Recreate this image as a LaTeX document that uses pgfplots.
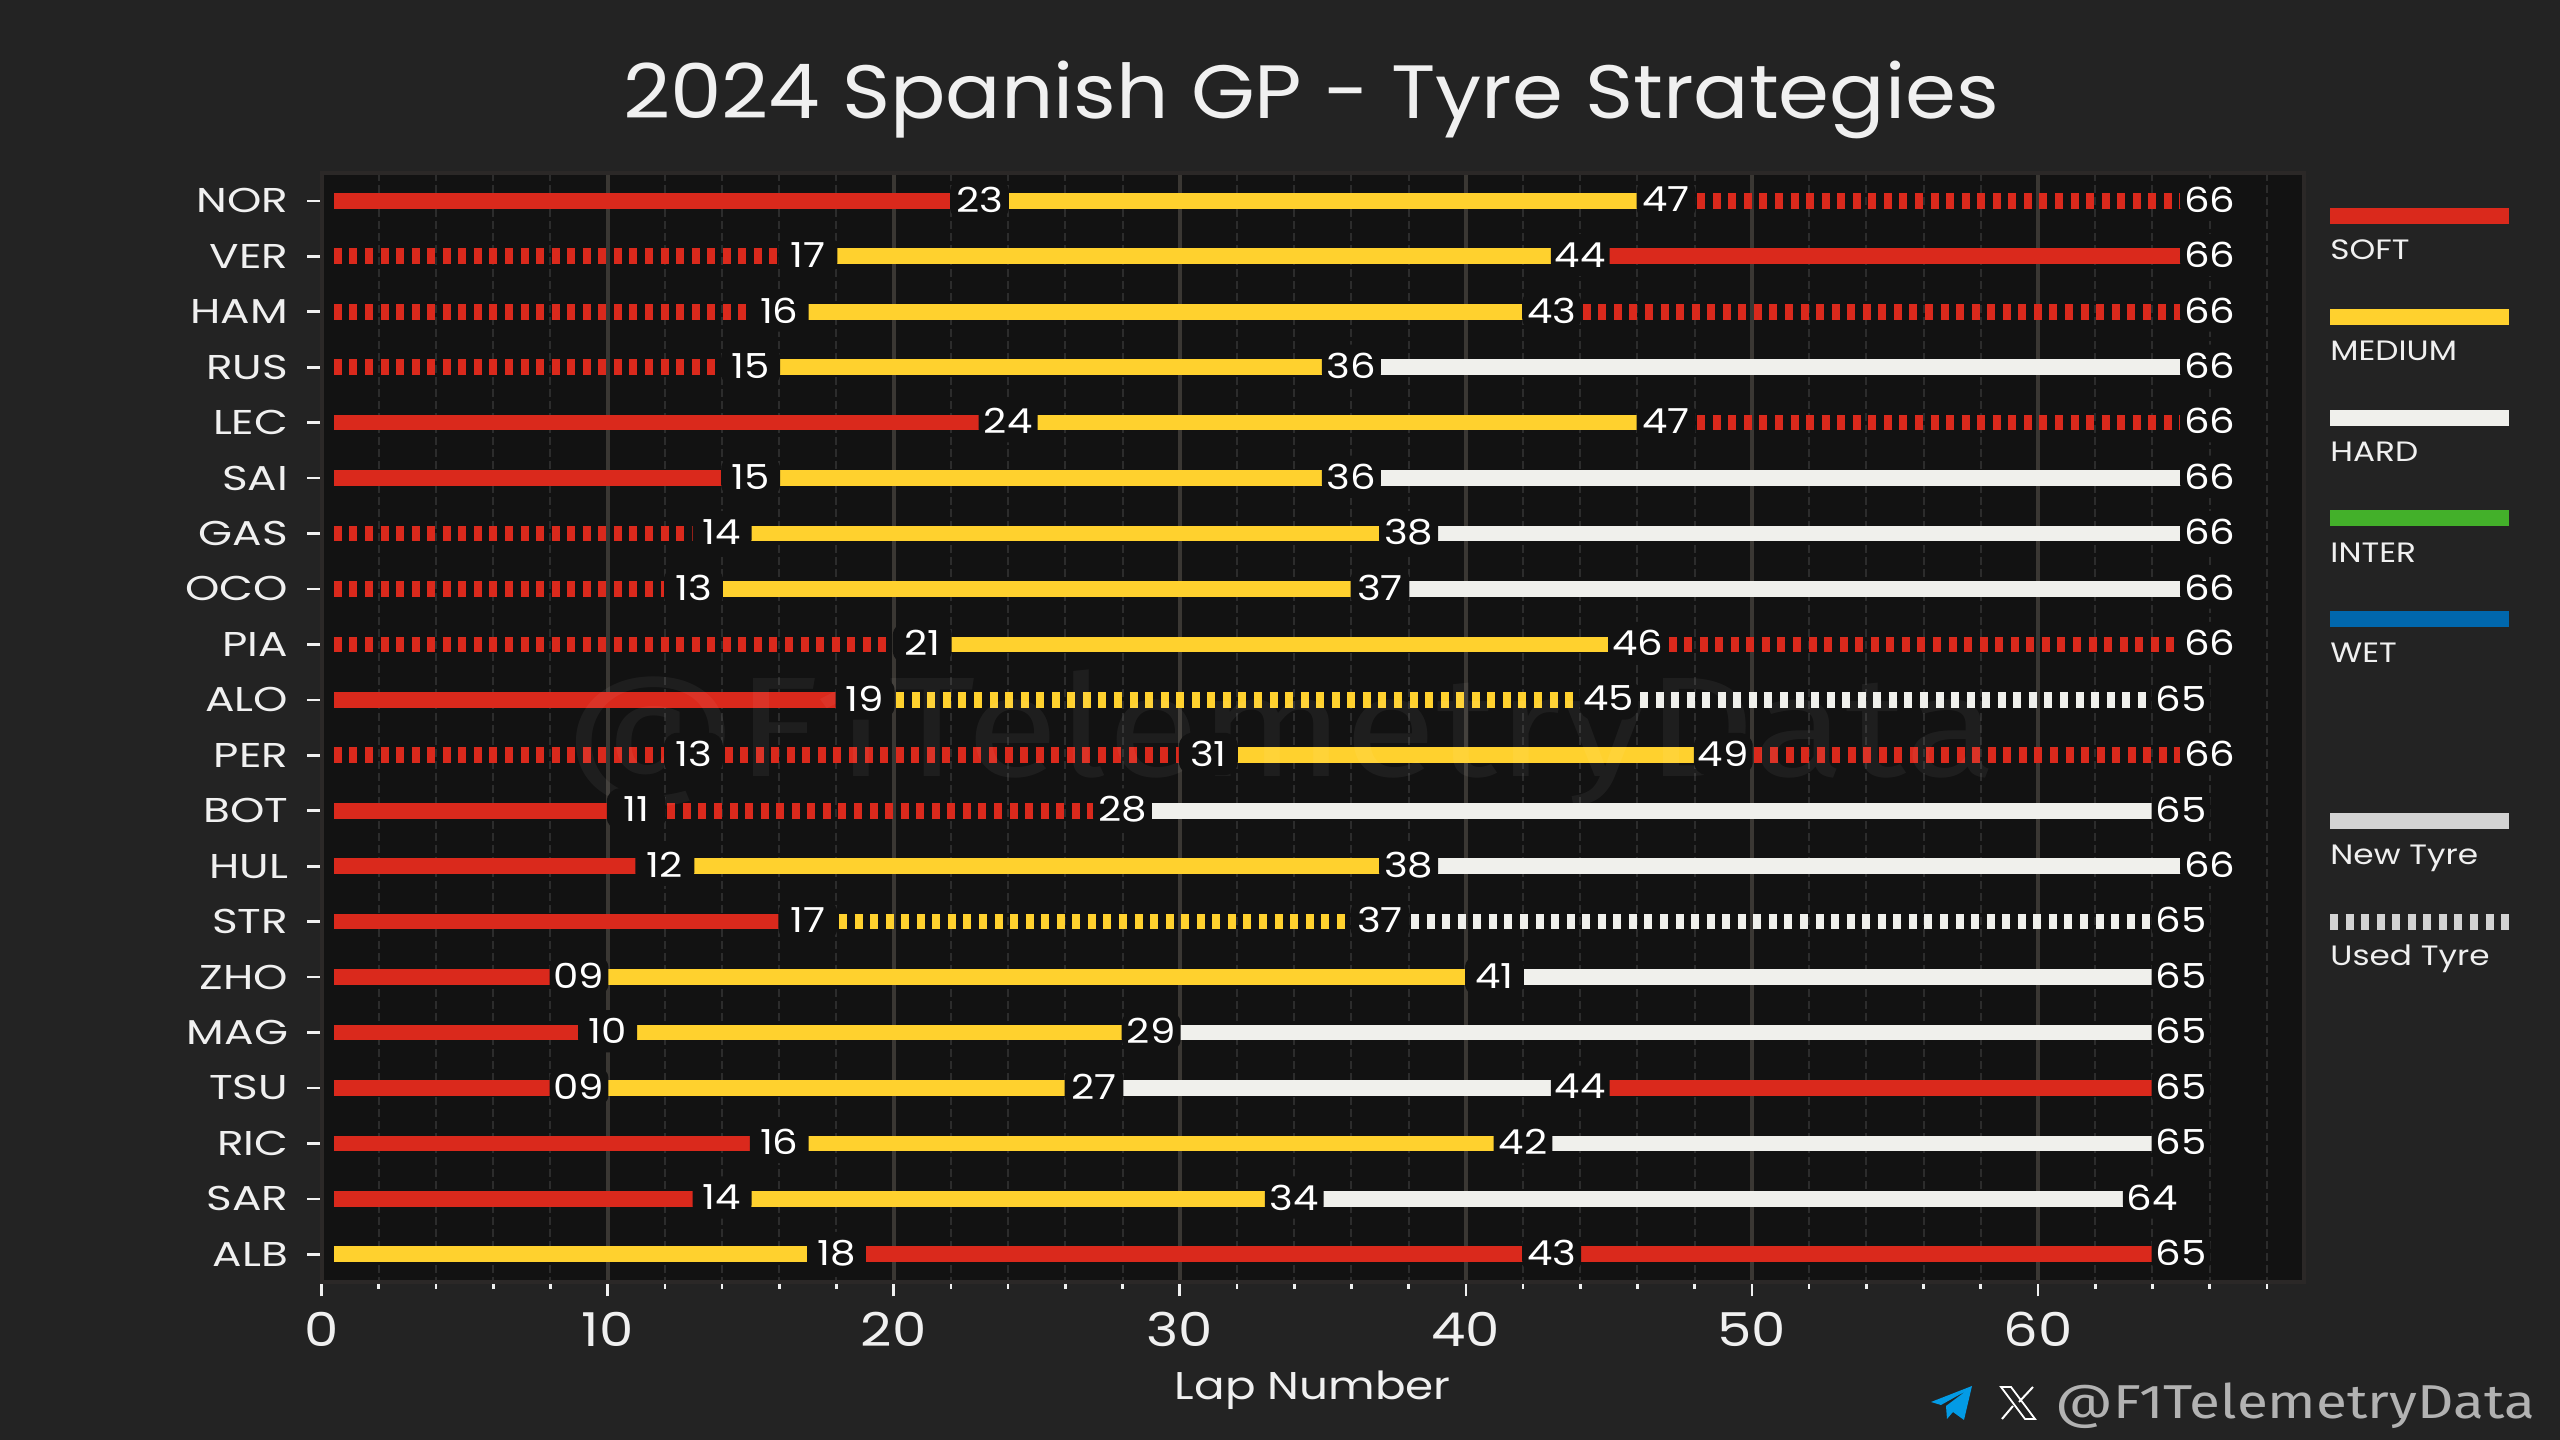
\documentclass[border=0pt]{standalone}
\usepackage{fontspec}
\setmainfont{Poppins}[FakeStretch=1.17]
\newfontfamily\titlefont{Poppins}[FakeStretch=1.085]
\newfontfamily\widefont{Poppins}[FakeStretch=1.27]
\newfontfamily\markfont{Fira Sans}[FakeStretch=1.19]
\usepackage{pgfplots}
\usepackage{pgfplotstable}
\pgfplotsset{compat=1.18}

\definecolor{figbg}{HTML}{232323}
\definecolor{axbg}{HTML}{121212}
\definecolor{spine}{HTML}{2B2827}
\definecolor{gridmaj}{HTML}{3A3733}
\definecolor{gridmin}{HTML}{2C2C2C}
\definecolor{soft}{HTML}{DA291C}
\definecolor{medium}{HTML}{FFD12E}
\definecolor{hard}{HTML}{F0F0EC}
\definecolor{inter}{HTML}{43B02A}
\definecolor{wet}{HTML}{0067AD}
\definecolor{newused}{HTML}{D3D3D3}
\definecolor{txt}{HTML}{F0F0F0}
\definecolor{tgram}{HTML}{039BE5}

% stints, one table per compound and tyre age; nan separates stints
\pgfplotstableread{
x y
0.43 0
23 0
nan 0
44 1
66 1
nan 1
0.43 4
24 4
nan 4
0.43 5
15 5
nan 5
0.43 9
19 9
nan 9
0.43 11
11 11
nan 11
0.43 12
12 12
nan 12
0.43 13
17 13
nan 13
0.43 14
9 14
nan 14
0.43 15
10 15
nan 15
0.43 16
9 16
nan 16
44 16
65 16
nan 16
0.43 17
16 17
nan 17
0.43 18
14 18
nan 18
18 19
43 19
nan 19
43 19
65 19
}\softnew
\pgfplotstableread{
x y
47 0
66 0
nan 0
0.43 1
17 1
nan 1
0.43 2
16 2
nan 2
43 2
66 2
nan 2
0.43 3
15 3
nan 3
47 4
66 4
nan 4
0.43 6
14 6
nan 6
0.43 7
13 7
nan 7
0.43 8
21 8
nan 8
46 8
66 8
nan 8
0.43 10
13 10
nan 10
13 10
31 10
nan 10
49 10
66 10
nan 10
11 11
28 11
}\softused
\pgfplotstableread{
x y
23 0
47 0
nan 0
17 1
44 1
nan 1
16 2
43 2
nan 2
15 3
36 3
nan 3
24 4
47 4
nan 4
15 5
36 5
nan 5
14 6
38 6
nan 6
13 7
37 7
nan 7
21 8
46 8
nan 8
31 10
49 10
nan 10
12 12
38 12
nan 12
9 14
41 14
nan 14
10 15
29 15
nan 15
9 16
27 16
nan 16
16 17
42 17
nan 17
14 18
34 18
nan 18
0.43 19
18 19
}\mediumnew
\pgfplotstableread{
x y
19 9
45 9
nan 9
17 13
37 13
}\mediumused
\pgfplotstableread{
x y
36 3
66 3
nan 3
36 5
66 5
nan 5
38 6
66 6
nan 6
37 7
66 7
nan 7
28 11
65 11
nan 11
38 12
66 12
nan 12
41 14
65 14
nan 14
29 15
65 15
nan 15
27 16
44 16
nan 16
42 17
65 17
nan 17
34 18
64 18
}\hardnew
\pgfplotstableread{
x y
45 9
65 9
nan 9
37 13
65 13
}\hardused
\pgfplotstableread{
x y lab
23 0 23
47 0 47
66 0 66
17 1 17
44 1 44
66 1 66
16 2 16
43 2 43
66 2 66
15 3 15
36 3 36
66 3 66
24 4 24
47 4 47
66 4 66
15 5 15
36 5 36
66 5 66
14 6 14
38 6 38
66 6 66
13 7 13
37 7 37
66 7 66
21 8 21
46 8 46
66 8 66
19 9 19
45 9 45
65 9 65
13 10 13
31 10 31
49 10 49
66 10 66
11 11 11
28 11 28
65 11 65
12 12 12
38 12 38
66 12 66
17 13 17
37 13 37
65 13 65
9 14 09
41 14 41
65 14 65
10 15 10
29 15 29
65 15 65
9 16 09
27 16 27
44 16 44
65 16 65
16 17 16
42 17 42
65 17 65
14 18 14
34 18 34
64 18 64
18 19 18
43 19 43
65 19 65
}\lablist

\tikzset{
  stint/.style={line width=7.05pt, line cap=butt, no markers},
  used/.style={stint, dash pattern=on 3.6pt off 3.4pt},
}

\begin{document}
\begin{tikzpicture}
\fill[figbg] (0,0) rectangle (1152pt,648pt);
\node[text=txt, font=\titlefont\fontsize{34}{34}\selectfont] at (590pt,603pt) {2024 Spanish GP - Tyre Strategies};
\begin{axis}[
    at={(144.7pt,71.1pt)}, anchor=south west,
    scale only axis, width=892.1pt, height=499pt,
    xmin=0, xmax=69.3, ymin=-0.5, ymax=19.5, y dir=reverse,
    unbounded coords=jump,
    axis background/.style={fill=axbg},
    axis line style={spine, line width=1.8pt},
    xtick={0,10,...,60},
    minor xtick={2,4,6,8,12,14,16,18,22,24,26,28,32,34,36,38,42,44,46,48,52,54,56,58,62,64,66,68},
    ytick={0,...,19},
    yticklabels={NOR,VER,HAM,RUS,LEC,SAI,GAS,OCO,PIA,ALO,PER,BOT,HUL,STR,ZHO,MAG,TSU,RIC,SAR,ALB},
    xtick pos=bottom, ytick pos=left, tick align=outside,
    major tick length=6.5pt, minor tick length=3.2pt,
    tick style={txt, line width=1.2pt},
    xmajorgrids, xminorgrids,
    major grid style={gridmaj, line width=1.8pt},
    minor grid style={gridmin, line width=0.9pt, dash pattern=on 3.6pt off 1.8pt},
    /pgf/number format/assume math mode=true,
    x tick label style={text=txt, font=\fontsize{21}{21}\selectfont, yshift=-3.5pt},
    y tick label style={text=txt, font=\widefont\fontsize{15.5}{15.5}\selectfont, xshift=-5pt},
    xlabel={Lap Number}, xlabel style={text=txt, font=\fontsize{17.4}{17.4}\selectfont, yshift=-4.2pt},
]
\addplot[stint, soft] table {\softnew};
\addplot[used, soft] table {\softused};
\addplot[stint, medium] table {\mediumnew};
\addplot[used, medium] table {\mediumused};
\addplot[stint, hard] table {\hardnew};
\addplot[used, hard] table {\hardused};
\node[text=white, opacity=0.05, font=\markfont\fontsize{64}{64}\selectfont] at (rel axis cs:0.484,0.49) {@F1TelemetryData};
\addplot[only marks, mark=none, point meta=explicit symbolic, nodes near coords,
    nodes near coords style={anchor=center, text=white, font=\fontsize{15.5}{15.5}\selectfont, yshift=0.6pt,
      fill=axbg, rounded corners=6pt, minimum width=26.5pt, minimum height=19pt, inner sep=0pt}]
    table[meta=lab] {\lablist};
\end{axis}
% legend and footer in reference pixels, origin at the top left
\begin{scope}[x=0.45pt, y=-0.45pt, yshift=648pt]
\foreach \yy/\cc/\tt/\ty in {216/soft/SOFT/250, 317/medium/MEDIUM/351, 418/hard/HARD/452, 518/inter/INTER/553, 619/wet/WET/653}{
  \draw[\cc, line width=7.05pt] (2330,\yy) -- (2509,\yy);
  \node[anchor=west, inner sep=0pt, text=txt, font=\fontsize{12.6}{12.6}\selectfont] at (2330,\ty) {\tt};
}
\draw[newused, line width=7.05pt] (2330,821) -- (2509,821);
\node[anchor=base west, inner sep=0pt, text=txt, font=\fontsize{12.6}{12.6}\selectfont] at (2330,864.5) {New Tyre};
\draw[newused, line width=7.05pt, dash pattern=on 3.6pt off 3.4pt] (2330,922) -- (2509,922);
\node[anchor=base west, inner sep=0pt, text=txt, font=\fontsize{12.6}{12.6}\selectfont] at (2330,965.5) {Used Tyre};
% telegram plane, x logo, handle
\fill[tgram] (1931,1402) -- (1972,1386) -- (1964,1420) -- (1953,1412) -- (1947,1419) -- (1946,1406) -- (1966,1391) -- (1941,1405) -- cycle;
\draw[white, line width=0.8pt] (2001,1387) -- (2011,1387) -- (2035,1419) -- (2025,1419) -- cycle;
\draw[white, line width=0.9pt] (2033,1387) -- (2019,1402);
\draw[white, line width=0.9pt] (2013,1406) -- (2002,1419);
\node[anchor=base west, inner sep=0pt, text=black!30, font=\markfont\fontsize{21.4}{21.4}\selectfont] at (2055,1419) {@F1TelemetryData};
\end{scope}
\end{tikzpicture}
\end{document}
